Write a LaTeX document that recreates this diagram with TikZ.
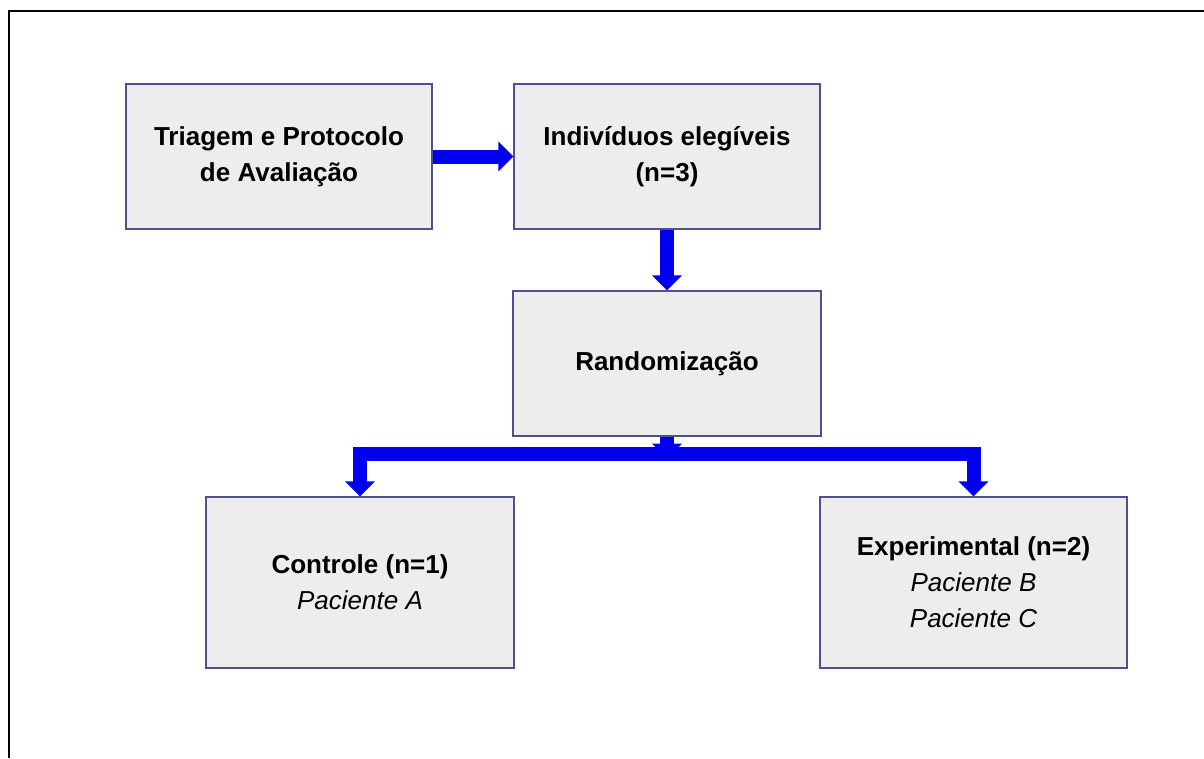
\documentclass[tikz,border=0pt]{standalone}
\usepackage{fontspec}
\setmainfont{Liberation Sans}
\usetikzlibrary{arrows.meta}
\definecolor{flowblue}{RGB}{0,0,240}
\definecolor{boxfill}{RGB}{237,237,237}
\definecolor{boxedge}{RGB}{80,80,140}
\newcommand{\pac}[1]{{\mdseries\itshape #1}}

\begin{document}
\begin{tikzpicture}[x=0.02cm,y=-0.02cm,
  box/.style={draw=boxedge,fill=boxfill,line width=0.8pt,minimum width=6.12cm,
    minimum height=2.9cm,align=center,inner sep=0pt,
    font=\fontsize{14.8}{20.5}\selectfont\bfseries},
  flow/.style={draw=flowblue,line width=0.28cm,line join=miter,
    -{Triangle[width=0.58cm,length=0.3cm]}}]
\useasboundingbox (0,0) rectangle (1204,758);
% frame
\draw[line width=0.04cm] (9,758) -- (9,11) -- (1204,11);
% boxes
\node[box] (triage) at (279,156.5) {Triagem e Protocolo\\de Avaliação};
\node[box] (elig) at (667,156.5) {Indivíduos elegíveis\\(n=3)};
\node[box,minimum width=6.16cm] (rand) at (667,363.5) {Randomização};
\node[box,minimum width=6.16cm,minimum height=3.42cm] (ctrl) at (360,582.5)
  {Controle (n=1)\\\pac{Paciente A}};
\node[box,minimum width=6.14cm,minimum height=3.42cm] (exp) at (973.5,582.5)
  {Experimental (n=2)\\\pac{Paciente B}\\\pac{Paciente C}};
% arrows
\draw[flow] (triage) -- (elig);
\draw[flow] (elig) -- (rand);
\draw[flow] (rand.south) -- ++(0,22);
\coordinate (split) at (667,454);
\draw[flow] (split) -| (ctrl.north);
\draw[flow] (split) -| (exp.north);
\end{tikzpicture}
\end{document}
